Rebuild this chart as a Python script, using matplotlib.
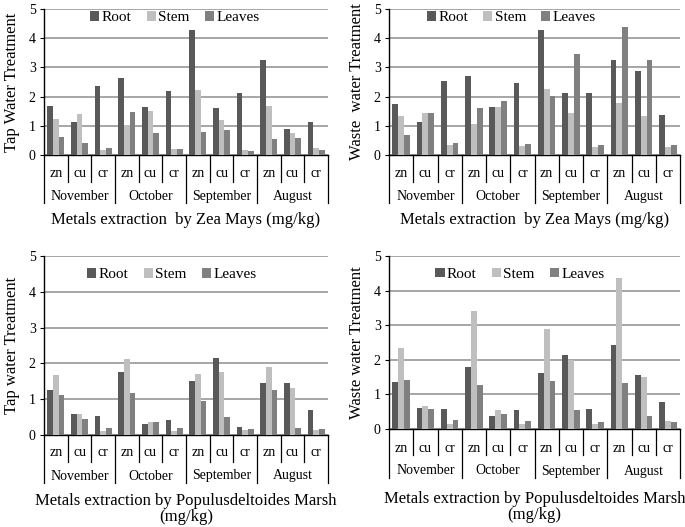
import matplotlib
matplotlib.use("Agg")
import matplotlib.pyplot as plt
import matplotlib.transforms as mtransforms
import numpy as np

plt.rcParams['font.family'] = ['Liberation Serif', 'DejaVu Serif']

months = ["November", "October", "September", "August"]
metals = ["zn", "cu", "cr"]
parts = ["Root", "Stem", "Leaves"]
colors = ["#595959", "#bfbfbf", "#808080"]

# Zea Mays, tap water
zea_tap_root = [1.68, 1.13, 2.36, 2.64, 1.64, 2.20, 4.28, 1.60, 2.12, 3.26, 0.89, 1.13]
zea_tap_stem = [1.22, 1.39, 0.17, 1.02, 1.51, 0.19, 2.23, 1.20, 0.17, 1.67, 0.74, 0.25]
zea_tap_leaves = [0.60, 0.42, 0.24, 1.48, 0.74, 0.22, 0.79, 0.86, 0.14, 0.56, 0.59, 0.16]
# Zea Mays, waste water
zea_waste_root = [1.74, 1.14, 2.55, 2.69, 1.66, 2.48, 4.27, 2.12, 2.12, 3.26, 2.88, 1.36]
zea_waste_stem = [1.32, 1.45, 0.35, 1.06, 1.66, 0.30, 2.25, 1.43, 0.27, 1.77, 1.35, 0.27]
zea_waste_leaves = [0.67, 1.45, 0.41, 1.60, 1.84, 0.38, 2.01, 3.47, 0.35, 4.38, 3.26, 0.33]
# Populus deltoides, tap water
pop_tap_root = [1.27, 0.59, 0.54, 1.77, 0.31, 0.42, 1.50, 2.14, 0.22, 1.44, 1.44, 0.69]
pop_tap_stem = [1.67, 0.59, 0.12, 2.12, 0.37, 0.12, 1.69, 1.75, 0.14, 1.90, 1.32, 0.13]
pop_tap_leaves = [1.13, 0.44, 0.19, 1.18, 0.35, 0.19, 0.94, 0.50, 0.16, 1.25, 0.20, 0.17]
# Populus deltoides, waste water
pop_waste_root = [1.37, 0.62, 0.58, 1.79, 0.38, 0.55, 1.61, 2.14, 0.58, 2.42, 1.56, 0.77]
pop_waste_stem = [2.35, 0.67, 0.15, 3.40, 0.56, 0.14, 2.89, 2.00, 0.15, 4.35, 1.49, 0.22]
pop_waste_leaves = [1.43, 0.57, 0.27, 1.28, 0.43, 0.22, 1.38, 0.56, 0.20, 1.34, 0.38, 0.19]

W, H = 685, 527
fig = plt.figure(figsize=(W / 100, H / 100), dpi=100)

def axes_px(l, r, t, b):
    return fig.add_axes([l / W, 1 - b / H, (r - l) / W, (b - t) / H])

panels = [
    dict(box=(44, 328, 9, 155), data=(zea_tap_root, zea_tap_stem, zea_tap_leaves),
         ylabel="Tap Water Treatment", xlabel="Metals extraction  by Zea Mays (mg/kg)",
         sep1=27, sep2=48, metal_y=18, month_y=41, xlab_y=65, leg=(0.46, 0.94)),
    dict(box=(389, 680, 9, 155), data=(zea_waste_root, zea_waste_stem, zea_waste_leaves),
         ylabel="Waste  water Treatment", xlabel="Metals extraction  by Zea Mays (mg/kg)",
         sep1=27, sep2=48, metal_y=18, month_y=41, xlab_y=65, leg=(0.42, 0.94)),
    dict(box=(44, 328, 256, 435), data=(pop_tap_root, pop_tap_stem, pop_tap_leaves),
         ylabel="Tap water Treatment", xlabel="Metals extraction by Populusdeltoides Marsh\n(mg/kg)",
         sep1=27, sep2=48, metal_y=18, month_y=41, xlab_y=74, leg=(0.45, 0.895)),
    dict(box=(389, 680, 256, 429), data=(pop_waste_root, pop_waste_stem, pop_waste_leaves),
         ylabel="Waste water Treatment", xlabel="Metals extraction by Populusdeltoides Marsh\n(mg/kg)",
         sep1=26, sep2=49, metal_y=20, month_y=42, xlab_y=78, leg=(0.45, 0.895)),
]

x = np.arange(12)
bw = 0.24
for p in panels:
    l, r, t, b = p['box']
    ax = axes_px(l, r, t, b)
    axh = b - t
    for i, (vals, c, name) in enumerate(zip(p['data'], colors, parts)):
        ax.bar(x + (i - 1) * bw, vals, width=bw, color=c, label=name, zorder=3)
    ax.set_xlim(-0.5, 11.5)
    ax.set_ylim(0, 5)
    ax.set_yticks(range(6))
    ax.yaxis.grid(True, color="#a6a6a6", linewidth=1.4, zorder=0)
    ax.set_axisbelow(True)
    for s in ("top", "right"):
        ax.spines[s].set_visible(False)
    ax.spines['left'].set_linewidth(1.0)
    ax.spines['bottom'].set_linewidth(1.0)
    ax.set_xticks([])
    ax.tick_params(axis='y', labelsize=10, length=3, width=0.8, pad=3)
    ax.set_ylabel(p['ylabel'], fontsize=12, labelpad=6)
    trans = mtransforms.blended_transform_factory(ax.transData, ax.transAxes)
    f = lambda px: -px / axh
    # separators
    for k in range(13):
        xs = k - 0.5
        bottom = p['sep2'] if k % 3 == 0 else p['sep1']
        ax.plot([xs, xs], [0, f(bottom)], transform=trans, color="black",
                linewidth=0.9, clip_on=False)
    for k in range(12):
        ax.text(k, f(p['metal_y']), metals[k % 3], transform=trans, ha='center',
                va='center', fontsize=10)
    for m in range(4):
        ax.text(3 * m + 1, f(p['month_y']), months[m], transform=trans, ha='center',
                va='center', fontsize=10)
    ax.text(0.5, f(p['xlab_y']), p['xlabel'], transform=ax.transAxes, ha='center',
            va='center', fontsize=12, linespacing=1.05)
    ax.legend(loc='center', bbox_to_anchor=p['leg'], ncol=3, frameon=False, fontsize=11,
              handlelength=0.6, handleheight=0.6, handletextpad=0.15, columnspacing=1.0,
              borderaxespad=0)

fig.savefig("out.png", dpi=100)
